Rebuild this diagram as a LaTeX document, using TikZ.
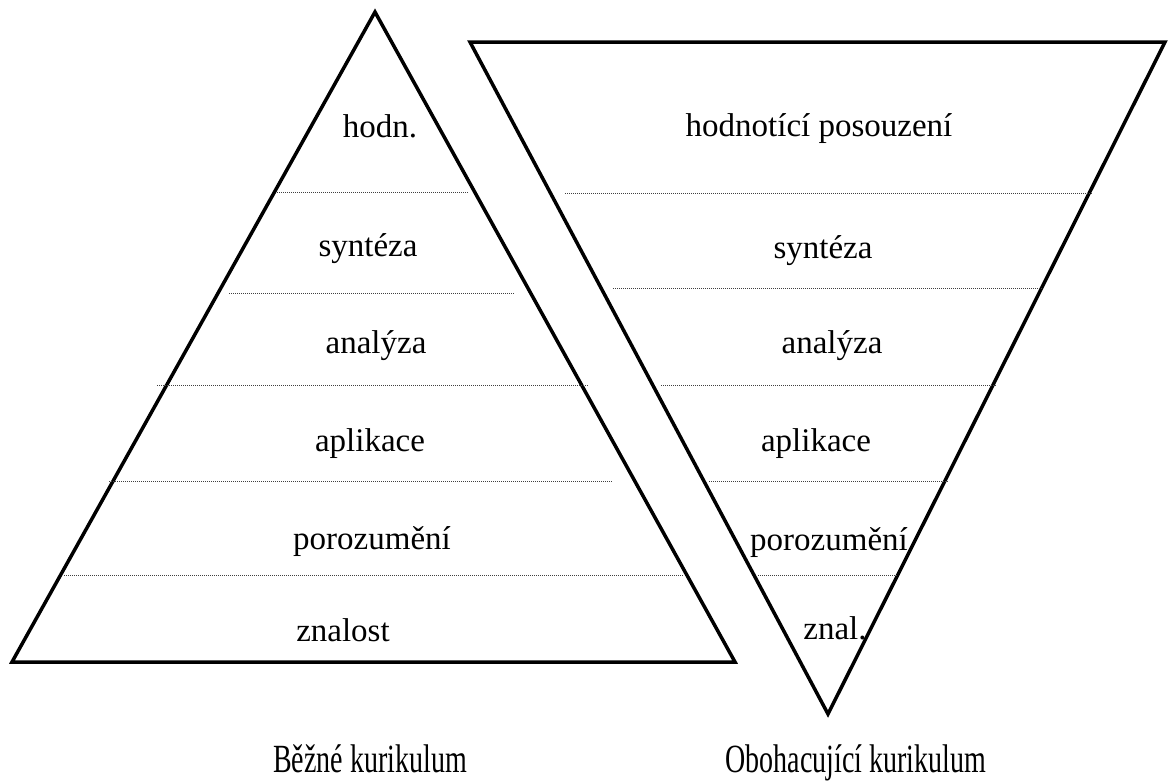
\documentclass[tikz,border=0pt]{standalone}
\usepackage{fontspec}
\setmainfont{Liberation Serif}
\newfontfamily\capfont[FakeStretch=0.7]{Liberation Serif}
\tikzset{
  trdraw/.style={draw, line width=3.5pt, line join=miter},
  lvlline/.style={draw=black!75, line width=1pt, dash pattern=on 1pt off 1pt},
  lvltext/.style={inner sep=0pt, anchor=base, font=\fontsize{33}{39}\selectfont},
  captext/.style={inner sep=0pt, anchor=base, font=\capfont\fontsize{40}{46}\selectfont},
}
\begin{document}
\begin{tikzpicture}[x=1pt,y=-1pt]
  \useasboundingbox (0,0) rectangle (1176,782);
  % pyramid and inverted pyramid
  \draw[trdraw] (375,12) -- (735,662) -- (12,662) -- cycle;
  \draw[trdraw] (470,42) -- (1165,42) -- (828,714) -- cycle;
  % level separators
  \foreach \y/\a/\b in {192/277/468, 293/229/515, 385/157/588, 481/109/612, 575/64/683}
    \draw[lvlline] (\a,\y) -- (\b,\y);
  \foreach \y/\a/\b in {193/565/1092, 288/613/1043, 385/661/996, 481/709/948, 575/758/898}
    \draw[lvlline] (\a,\y) -- (\b,\y);
  % common curriculum
  \node[lvltext] (lhod) at (380,137) {hodn.};
  \node[lvltext] (lsyn) at (368,256) {syntéza};
  \node[lvltext] (lana) at (376,353) {analýza};
  \node[lvltext] (lapl) at (370,451) {aplikace};
  \node[lvltext] (lpor) at (372,549) {porozumění};
  \node[lvltext] (lzna) at (343,641) {znalost};
  % enriching curriculum
  \node[lvltext] (rhod) at (819,136) {hodnotící posouzení};
  \node[lvltext] (rsyn) at (823,258) {syntéza};
  \node[lvltext] (rana) at (832,353) {analýza};
  \node[lvltext] (rapl) at (816,451) {aplikace};
  \node[lvltext] (rpor) at (829,550) {porozumění};
  \node[lvltext] (rzna) at (835,639) {znal.};
  % captions
  \node[captext] (lcap) at (370,772) {Běžné kurikulum};
  \node[captext] (rcap) at (856,772) {Obohacující kurikulum};
\end{tikzpicture}
\end{document}
